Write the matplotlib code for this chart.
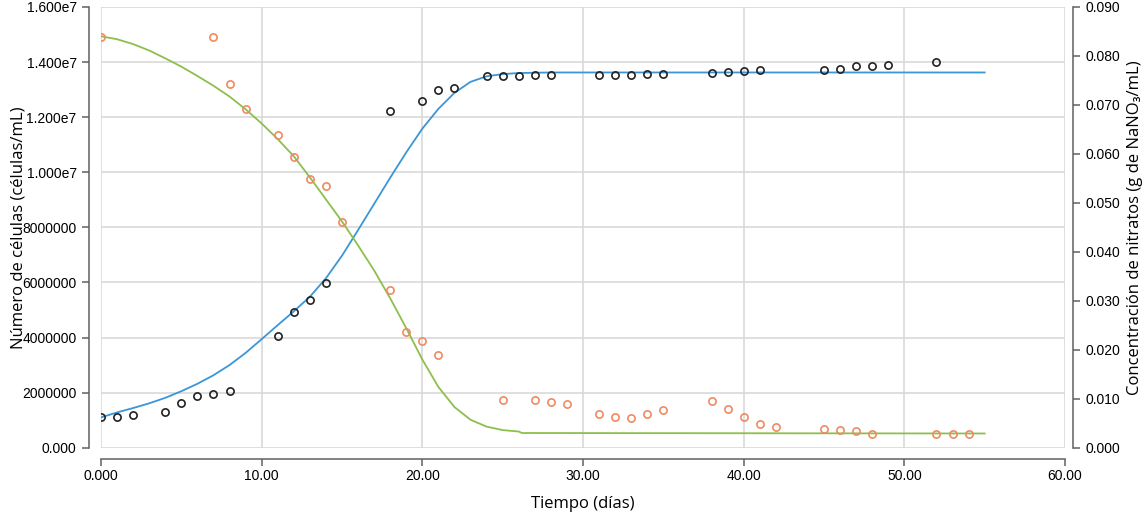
import matplotlib
matplotlib.use("Agg")
import matplotlib.pyplot as plt

# measured cell counts (cells/mL)
cells_t = [0, 1, 2, 4, 5, 6, 7, 8, 11, 12, 13, 14, 18, 20, 21, 22, 24, 25, 26, 27, 28,
           31, 32, 33, 34, 35, 38, 39, 40, 41, 45, 46, 47, 48, 49, 52]
cells = [1.10e6, 1.10e6, 1.20e6, 1.28e6, 1.61e6, 1.86e6, 1.94e6, 2.06e6, 4.07e6, 4.92e6,
         5.35e6, 5.98e6, 1.222e7, 1.258e7, 1.300e7, 1.307e7, 1.350e7, 1.350e7, 1.349e7,
         1.353e7, 1.353e7, 1.352e7, 1.352e7, 1.352e7, 1.355e7, 1.357e7, 1.361e7, 1.365e7,
         1.369e7, 1.371e7, 1.371e7, 1.375e7, 1.386e7, 1.386e7, 1.390e7, 1.399e7]

# measured nitrate (g NaNO3/mL)
nit_t = [0, 7, 8, 9, 11, 12, 13, 14, 15, 18, 19, 20, 21, 25, 27, 28, 29, 31, 32, 33, 34, 35,
         38, 39, 40, 41, 42, 45, 46, 47, 48, 52, 53, 54]
nit = [0.0838, 0.0838, 0.0743, 0.0691, 0.0639, 0.0594, 0.0549, 0.0534, 0.0460, 0.0323,
       0.0237, 0.0218, 0.0189, 0.0097, 0.0097, 0.0093, 0.0089, 0.0069, 0.0063, 0.0061,
       0.0069, 0.0076, 0.0095, 0.0080, 0.0063, 0.0049, 0.0042, 0.0039, 0.0037, 0.0035,
       0.0028, 0.0028, 0.0028, 0.0028]

# fitted curves
fit_t = [0, 1, 2, 3, 4, 5, 6, 7, 8, 9, 10, 11, 12, 13, 14, 15, 16, 17, 18, 19, 20, 21, 22,
         23, 24, 25, 26, 28, 55]
fit_cells = [1.10e6, 1.28e6, 1.44e6, 1.61e6, 1.81e6, 2.05e6, 2.32e6, 2.63e6, 3.00e6, 3.44e6,
             3.94e6, 4.45e6, 4.95e6, 5.48e6, 6.15e6, 6.97e6, 7.90e6, 8.85e6, 9.80e6, 1.072e7,
             1.158e7, 1.230e7, 1.288e7, 1.328e7, 1.348e7, 1.356e7, 1.360e7, 1.362e7, 1.362e7]

gfit_t = [0, 1, 2, 3, 4, 5, 6, 7, 8, 9, 10, 11, 12, 13, 14, 15, 16, 17, 18, 19, 20, 21, 22,
          23, 24, 25, 26, 26.2, 55]
fit_nit = [0.0840, 0.0834, 0.0824, 0.0811, 0.0795, 0.0778, 0.0759, 0.0739, 0.0717, 0.0691,
           0.0662, 0.0630, 0.0595, 0.0552, 0.0507, 0.0462, 0.0413, 0.0362, 0.0305, 0.0244,
           0.0180, 0.0124, 0.0083, 0.0057, 0.0043, 0.0036, 0.0033, 0.0030, 0.0029]

x_ticks = [0, 10, 20, 30, 40, 50, 60]
x_labels = ["0.000", "10.00", "20.00", "30.00", "40.00", "50.00", "60.00"]
y_ticks = [0, 2e6, 4e6, 6e6, 8e6, 1.0e7, 1.2e7, 1.4e7, 1.6e7]
y_labels = ["0.000", "2000000", "4000000", "6000000", "8000000",
            "1.000e7", "1.200e7", "1.400e7", "1.600e7"]
y2_ticks = [0.0, 0.01, 0.02, 0.03, 0.04, 0.05, 0.06, 0.07, 0.08, 0.09]
y2_labels = ["%.3f" % v for v in y2_ticks]

plt.rcParams["font.family"] = ["Liberation Sans", "DejaVu Sans"]
tick_col = "#333333"
spine_col = "#606060"

fig = plt.figure(figsize=(11.48, 5.14), dpi=100)
ax = fig.add_axes([101 / 1148, 1 - 447.7 / 514, 964 / 1148, 440.8 / 514])
ax2 = ax.twinx()

ax.set_xlim(0, 60)
ax.set_ylim(0, 1.6e7)
ax2.set_ylim(0, 0.09)

ax.set_xticks(x_ticks)
ax.set_xticklabels(x_labels, fontsize=8.5, color=tick_col)
ax.set_yticks(y_ticks)
ax.set_yticklabels(y_labels, fontsize=8.5, color=tick_col)
ax2.set_yticks(y2_ticks)
ax2.set_yticklabels(y2_labels, fontsize=8.5, color=tick_col)

ax.grid(True, color="#d6d6d6", linewidth=1.1)
ax.set_axisbelow(True)

for a in (ax, ax2):
    a.spines["top"].set_visible(False)
    for s in ("left", "right", "bottom"):
        a.spines[s].set_color(spine_col)
        a.spines[s].set_linewidth(1.1)
    a.tick_params(color=spine_col, width=1.1, length=5)
ax.tick_params(axis="x", pad=2)
ax.spines["right"].set_visible(False)
ax2.spines["left"].set_visible(False)
ax2.spines["bottom"].set_visible(False)
ax.spines["left"].set_position(("outward", 9))
ax.spines["bottom"].set_position(("outward", 8))
ax2.spines["right"].set_position(("outward", 6))

ax.plot(fit_t, fit_cells, color="#3a96d8", linewidth=1.3, zorder=3)
ax2.plot(gfit_t, fit_nit, color="#8dbf4c", linewidth=1.3, zorder=3)
ax.plot(cells_t, cells, linestyle="none", marker="o", markersize=5.2,
        markerfacecolor="none", markeredgecolor="#222222", markeredgewidth=1.2, zorder=4)
ax2.plot(nit_t, nit, linestyle="none", marker="o", markersize=5.2,
         markerfacecolor="none", markeredgecolor="#ef8a60", markeredgewidth=1.2, zorder=4)

label_kw = dict(fontfamily=["Open Sans", "DejaVu Sans"], fontsize=12)
ax.set_xlabel("Tiempo (días)", **label_kw)
ax.set_ylabel("Número de células (células/mL)", **label_kw)
ax2.set_ylabel("Concentración de nitratos (g de NaNO\u2083/mL)", **label_kw)
ax.xaxis.set_label_coords(0.5, -0.11)
ax.yaxis.set_label_coords(-0.077, 0.5)
ax2.yaxis.set_label_coords(1.064, 0.5)

fig.savefig("out.png", dpi=100)
